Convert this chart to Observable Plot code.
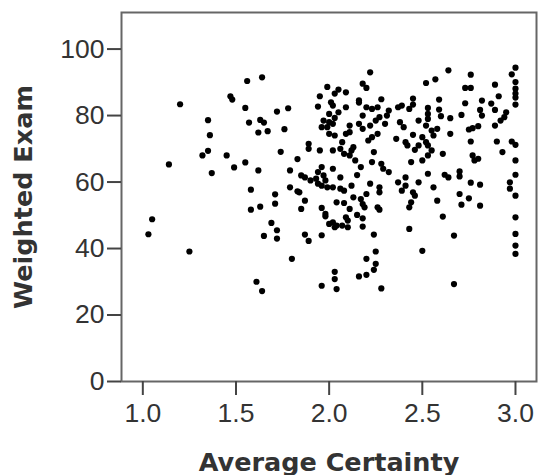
<!DOCTYPE html>
<html>
<head>
<meta charset="utf-8">
<script src="https://cdn.jsdelivr.net/npm/d3@7"></script>
<script src="https://cdn.jsdelivr.net/npm/@observablehq/plot@0.6"></script>
<style>
  html, body { margin: 0; padding: 0; background: #fff; }
  #chart svg { display: block; }
</style>
</head>
<body>
<div id="chart"></div>
<script>
const certainty = [
  1.03,1.05,1.14,1.20,1.25,1.32,1.35,1.35,1.36,1.37,1.45,1.47,1.48,1.49,
  1.56,1.64,1.55,1.72,1.78,1.95,1.99,1.94,2.01,2.02,1.57,1.63,1.65,1.62,1.67,1.76,
  1.97,2.00,2.02,1.99,1.96,2.00,2.00,1.89,1.89,1.74,1.95,2.02,1.83,1.55,1.62,1.79,
  1.85,1.87,1.90,1.93,1.94,1.96,1.97,1.98,1.94,1.96,1.99,2.02,2.02,1.58,1.71,1.79,
  1.83,1.84,1.71,1.63,1.58,1.87,1.85,1.96,1.98,2.00,1.69,1.72,1.65,1.72,1.87,1.89,
  1.96,1.80,1.61,1.64,1.96,
  2.22,2.18,2.20,2.05,2.03,2.09,2.16,2.16,2.28,2.09,2.05,2.20,2.23,2.26,2.18,2.32,
  2.37,2.39,2.43,2.45,2.45,2.53,2.27,2.25,2.31,2.48,2.11,2.11,2.09,2.16,2.18,2.22,
  2.30,2.38,2.40,2.03,2.26,2.23,2.21,2.36,2.41,2.42,2.45,2.50,2.52,2.48,2.46,2.07,
  2.06,2.08,2.11,2.12,2.13,2.24,2.14,2.17,2.23,2.28,2.29,2.44,2.50,2.53,2.32,2.53,
  2.06,2.15,2.12,2.22,2.27,2.37,2.41,2.41,2.48,2.56,2.06,2.08,2.27,2.20,2.39,2.45,
  2.46,2.13,2.17,2.18,2.19,2.04,2.08,2.26,2.27,2.43,2.44,2.11,1.98,2.09,2.10,2.15,
  2.18,2.02,2.03,2.04,2.07,2.10,2.18,2.24,2.43,2.25,2.20,2.25,2.24,2.20,2.16,2.03,
  2.03,2.04,2.28,2.50,2.03,
  2.64,2.76,2.57,2.52,3.00,2.98,3.00,3.00,3.00,3.00,3.00,2.89,2.73,2.76,2.91,2.59,
  2.73,2.82,2.87,2.89,2.53,2.53,2.59,2.60,2.65,2.71,2.81,2.82,2.95,2.94,2.92,2.89,
  2.52,2.55,2.58,2.56,2.53,2.55,2.75,2.77,2.80,2.65,2.76,2.90,2.98,3.00,2.93,2.61,
  2.77,2.78,2.80,3.00,2.62,2.64,2.70,2.70,3.00,2.76,2.81,2.97,2.97,3.00,2.70,2.75,
  2.71,2.81,2.58,2.61,3.00,2.67,3.00,3.00,3.00,2.67
];
const exam = [
  44.3,48.8,65.3,83.4,39.1,68.0,69.4,78.6,74.1,62.7,68.0,85.8,84.8,64.4,
  90.4,91.5,82.3,81.2,82.2,85.8,88.6,82.7,84.0,83.0,77.9,78.7,77.9,74.9,75.3,75.9,
  78.5,78.0,77.5,76.5,76.5,80.5,74.5,71.5,70.0,69.1,69.5,69.5,66.9,65.9,63.5,63.5,
  62.0,61.4,60.5,61.0,63.0,64.5,62.0,60.5,59.5,58.9,58.4,58.4,64.0,57.7,56.3,58.4,
  57.2,56.9,53.5,52.6,51.7,54.4,51.9,52.2,49.7,47.4,47.7,45.5,43.8,43.0,44.2,42.3,
  44.0,36.9,30.0,27.2,28.8,
  93.0,89.6,88.3,87.8,86.6,87.0,84.6,83.9,84.9,82.5,81.0,82.5,82.0,82.5,80.0,81.5,
  82.5,83.0,82.0,85.1,83.3,82.3,79.5,78.5,80.0,78.5,77.0,75.0,74.5,77.5,76.0,77.0,
  77.5,78.0,76.5,74.0,74.5,73.5,72.5,73.0,72.0,71.0,74.2,73.5,72.0,71.0,69.7,72.0,
  70.0,68.5,68.0,69.5,70.5,69.0,66.5,64.5,66.0,65.5,64.0,66.0,66.5,68.0,63.0,62.5,
  61.4,62.1,58.9,59.5,58.4,59.9,61.4,58.9,59.9,58.4,58.0,57.4,56.9,56.4,57.4,56.9,
  55.9,55.4,54.9,53.4,52.4,53.9,53.7,52.4,51.7,52.4,53.9,51.9,50.4,49.4,48.4,50.1,
  49.1,47.9,46.4,46.9,46.9,46.4,46.6,44.2,45.9,39.1,36.9,35.4,33.6,32.1,31.6,33.0,
  30.8,27.8,28.0,39.3,79.3,
  93.6,92.3,90.9,89.8,94.4,92.4,90.1,88.1,86.6,85.4,83.3,89.3,88.3,88.3,85.8,84.8,
  83.7,84.5,83.6,81.7,80.5,79.0,81.8,79.8,79.2,80.2,81.7,80.0,81.0,79.5,78.5,77.0,
  77.0,75.5,76.0,74.0,71.0,69.5,75.8,76.2,76.8,74.5,72.2,72.2,72.2,71.2,69.0,68.5,
  68.0,66.5,67.0,66.5,62.2,61.4,63.2,61.7,62.2,59.8,59.2,59.9,58.0,55.9,56.4,55.1,
  53.2,52.9,54.4,49.6,49.4,43.9,44.4,40.9,38.4,29.3
];
const xTicks = [1.0, 1.5, 2.0, 2.5, 3.0];
const yTicks = [0, 20, 40, 60, 80, 100];
const xTitle = "Average Certainty";
const yTitle = "Weighted Exam";

const points = certainty.map((c, i) => ({certainty: c, exam: exam[i]}));

const chart = Plot.plot({
  width: 538,
  height: 475,
  marginLeft: 121,
  marginRight: 2,
  marginTop: 12,
  marginBottom: 94,
  style: {background: "#fff", fontFamily: "'Liberation Sans', Arial, sans-serif"},
  x: {domain: [0.8856, 3.1128], label: null},
  y: {domain: [0, 111], label: null},
  marks: [
    Plot.frame({stroke: "#666", strokeWidth: 2}),
    Plot.axisX({ticks: xTicks, tickFormat: d3.format(".1f"), tickSize: 14, tickPadding: 8,
      fontSize: 26.5, stroke: "#444", strokeWidth: 2, color: "#333",
      label: xTitle, labelArrow: "none", labelAnchor: "center", labelOffset: 89}),
    Plot.axisY({ticks: yTicks, tickSize: 14, tickPadding: 3,
      fontSize: 26.5, stroke: "#444", strokeWidth: 2, color: "#333",
      label: yTitle, labelArrow: "none", labelAnchor: "center", labelOffset: 108}),
    Plot.dot(points, {x: "certainty", y: "exam", r: 3.1, fill: "#000", stroke: "none"})
  ]
});
document.getElementById("chart").appendChild(chart);

// Style axis titles (bold sans), and make sure no arrow glyph remains
d3.select(chart).select('[aria-label="x-axis label"] text').text(xTitle);
d3.select(chart).select('[aria-label="y-axis label"] text').text(yTitle);
d3.select(chart).selectAll('[aria-label="x-axis label"] text, [aria-label="y-axis label"] text')
  .style("font-family", "'DejaVu Sans', sans-serif")
  .style("font-weight", "bold")
  .style("font-size", "25.5px")
  .attr("fill", "#333");
</script>
</body>
</html>
